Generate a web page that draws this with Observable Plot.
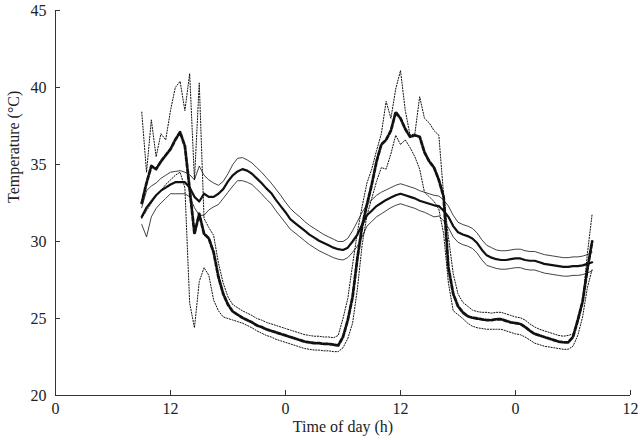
<!DOCTYPE html>
<html><head><meta charset="utf-8">
<script src="https://cdn.jsdelivr.net/npm/d3@7"></script>
<script src="https://cdn.jsdelivr.net/npm/@observablehq/plot@0.6"></script>
<style>body{margin:0;background:#fff}</style>
</head><body><div id="chart"></div>
<script>
// time since start of axis (h); tick labels show time of day
const hours = [
 9,9.5,10,10.5,11,11.5,12,12.5,13,13.5,
 14,14.5,15,15.5,16,16.5,17,17.5,18,18.5,
 19,19.5,20,20.5,21,21.5,22,22.5,23,23.5,
 24,24.5,25,25.5,26,26.5,27,27.5,28,28.5,
 29,29.5,30,30.5,31,31.5,32,32.5,33,33.5,
 34,34.5,35,35.5,36,36.5,37,37.5,38,38.5,
 39,39.5,40,40.5,41,41.5,42,42.5,43,43.5,
 44,44.5,45,45.5,46,46.5,47,47.5,48,48.5,
 49,49.5,50,50.5,51,51.5,52,52.5,53,53.5,
 54,54.5,55,55.5,56];

const tbMean = [
 31.6,32.2,32.6,33.0,33.3,33.5,33.7,33.85,33.85,33.85,
 33.5,32.9,32.6,33.1,32.9,32.9,33.1,33.4,33.9,34.3,
 34.55,34.7,34.6,34.4,34.1,33.8,33.45,33.15,32.7,32.3,
 31.9,31.45,31.2,30.95,30.7,30.45,30.25,30.05,29.9,29.75,
 29.6,29.5,29.45,29.6,30.0,30.45,31.1,31.7,32.0,32.3,
 32.5,32.7,32.85,33.0,33.1,33.0,32.9,32.8,32.65,32.55,
 32.45,32.35,32.3,32.0,31.6,31.0,30.6,30.45,30.35,30.2,
 29.9,29.45,29.1,28.95,28.85,28.8,28.8,28.85,28.9,28.9,
 28.8,28.75,28.75,28.65,28.55,28.5,28.45,28.4,28.35,28.35,
 28.4,28.4,28.45,28.55,28.65];

const tbHigh = [
 32.2,33.3,33.6,33.8,34.1,34.3,34.5,34.55,34.6,34.5,
 34.35,34.0,34.9,34.3,34.0,33.8,33.65,33.9,34.4,35.0,
 35.4,35.45,35.3,35.1,34.8,34.5,34.15,33.8,33.4,33.0,
 32.55,32.15,31.85,31.6,31.3,31.05,30.85,30.65,30.45,30.3,
 30.15,30.0,30.0,30.2,30.7,31.3,31.9,32.4,32.7,33.0,
 33.2,33.35,33.5,33.65,33.75,33.65,33.55,33.45,33.3,33.2,
 33.1,33.0,32.95,32.7,32.3,31.7,31.25,31.1,31.0,30.85,
 30.55,30.1,29.75,29.6,29.45,29.4,29.4,29.45,29.5,29.5,
 29.4,29.35,29.35,29.25,29.15,29.1,29.05,29.0,28.95,28.95,
 29.0,29.0,29.05,29.15,29.3];

const tbLow = [
 31.1,30.3,31.6,32.15,32.5,32.8,33.1,33.1,33.1,33.1,
 32.9,32.2,31.7,31.7,32.05,32.25,32.4,32.8,33.2,33.6,
 33.95,33.95,33.85,33.7,33.4,33.1,32.75,32.45,32.0,31.6,
 31.2,30.8,30.55,30.3,30.05,29.8,29.6,29.4,29.25,29.1,
 28.95,28.85,28.8,28.95,29.3,29.7,30.3,31.0,31.3,31.6,
 31.8,32.0,32.2,32.35,32.45,32.35,32.25,32.15,32.0,31.9,
 31.75,31.6,31.65,31.35,30.9,30.3,29.95,29.8,29.7,29.55,
 29.25,28.8,28.45,28.35,28.25,28.2,28.2,28.25,28.3,28.3,
 28.2,28.15,28.15,28.05,27.95,27.9,27.85,27.8,27.75,27.75,
 27.8,27.8,27.85,27.95,28.1];

const taMean = [
 32.5,33.8,34.9,34.7,35.2,35.6,36.0,36.6,37.1,36.2,
 33.4,30.5,31.8,30.5,30.2,29.3,27.7,26.6,25.9,25.45,
 25.25,25.05,24.9,24.75,24.55,24.45,24.3,24.2,24.1,24.0,
 23.9,23.8,23.7,23.6,23.5,23.45,23.4,23.4,23.35,23.35,
 23.3,23.25,23.8,24.9,26.4,28.9,31.0,32.4,33.7,35.2,
 36.3,36.6,37.2,38.4,38.0,37.3,36.8,36.9,36.8,35.8,
 35.2,34.8,34.0,32.9,28.3,26.6,25.8,25.4,25.15,25.05,
 25.0,24.95,24.9,24.9,24.95,24.95,24.85,24.75,24.7,24.65,
 24.45,24.2,24.0,23.9,23.8,23.7,23.6,23.5,23.45,23.45,
 23.8,24.9,26.1,28.2,30.0];

const taHigh = [
 38.4,34.5,37.9,35.5,37.0,36.6,38.5,40.0,40.4,38.5,
 40.9,34.0,40.3,31.5,30.9,30.4,28.6,27.3,26.4,25.9,
 25.7,25.5,25.35,25.2,25.0,24.9,24.75,24.65,24.55,24.45,
 24.35,24.25,24.15,24.05,23.95,23.9,23.85,23.85,23.8,23.8,
 23.75,23.9,25.0,26.3,28.5,30.6,32.3,33.8,34.7,35.9,
 37.0,39.1,38.0,39.9,41.1,38.5,36.9,37.0,39.4,38.0,
 37.7,37.2,36.9,33.0,30.3,27.9,26.6,26.05,25.8,25.55,
 25.45,25.4,25.4,25.35,25.4,25.4,25.3,25.2,25.1,25.05,
 24.9,24.65,24.45,24.3,24.2,24.1,24.0,23.9,23.85,23.9,
 24.0,24.7,26.0,29.2,31.8];

const taLow = [
 31.5,32.0,32.5,33.0,33.3,33.7,34.0,34.3,34.5,33.5,
 26.0,24.4,27.4,28.3,27.8,26.2,25.5,25.1,25.0,24.9,
 24.8,24.7,24.55,24.4,24.2,24.05,23.9,23.8,23.65,23.55,
 23.45,23.35,23.25,23.15,23.05,23.0,22.95,22.95,22.9,22.9,
 22.85,22.85,23.1,23.7,24.7,26.9,29.8,31.7,32.8,33.9,
 34.8,34.7,35.7,36.9,36.3,36.6,36.1,35.5,34.7,33.2,
 32.9,32.6,32.1,30.5,27.3,25.5,25.25,25.0,24.7,24.5,
 24.4,24.35,24.3,24.3,24.3,24.3,24.2,24.1,24.0,23.95,
 23.8,23.6,23.4,23.3,23.2,23.15,23.1,23.05,23.0,23.0,
 23.2,23.9,25.1,27.0,28.2];

const xTicks = [0, 12, 24, 36, 48, 60];
const yTicks = [20, 25, 30, 35, 40, 45];
const xLabel = "Time of day (h)";
const yLabel = "Temperature (°C)";

const rows = vals => hours.map((h, i) => ({h, v: vals[i]}));
const ink = "#111";

const chart = Plot.plot({
  width: 640, height: 440,
  marginLeft: 55, marginRight: 10, marginTop: 10, marginBottom: 45,
  style: {fontFamily: "'Liberation Serif', 'Times New Roman', serif", fontSize: "16px", color: "#222", background: "#fff"},
  x: {domain: [0, 60]},
  y: {domain: [20, 45]},
  marks: [
    Plot.ruleX([0], {stroke: "#333", strokeWidth: 1}),
    Plot.ruleY([20], {stroke: "#333", strokeWidth: 1}),
    Plot.tickX(xTicks, {x: d => d, insetTop: 380, stroke: "#333"}),
    Plot.tickY(yTicks, {y: d => d, insetRight: 570, stroke: "#333"}),
    Plot.axisX(xTicks, {tickSize: 0, tickPadding: 7, tickFormat: d => String(d % 24), label: null, fontSize: 16}),
    Plot.axisY(yTicks, {tickSize: 0, tickPadding: 9, label: null, fontSize: 16}),
    Plot.line(rows(tbHigh), {x: "h", y: "v", stroke: ink, strokeWidth: 0.8}),
    Plot.line(rows(tbLow), {x: "h", y: "v", stroke: ink, strokeWidth: 0.8}),
    Plot.line(rows(taHigh), {x: "h", y: "v", stroke: ink, strokeWidth: 1, strokeDasharray: "1.2,1.6"}),
    Plot.line(rows(taLow), {x: "h", y: "v", stroke: ink, strokeWidth: 1, strokeDasharray: "1.2,1.6"}),
    Plot.line(rows(tbMean), {x: "h", y: "v", stroke: ink, strokeWidth: 2.2}),
    Plot.line(rows(taMean), {x: "h", y: "v", stroke: ink, strokeWidth: 2.8, strokeDasharray: "4,2"}),
    Plot.text([yLabel], {text: d => d, frameAnchor: "left", dx: -42, rotate: -90, fontSize: 16, fill: "#222"}),
    Plot.text([xLabel], {text: d => d, frameAnchor: "bottom", dy: 36, fontSize: 16, fill: "#222"})
  ]
});
document.getElementById("chart").appendChild(chart);
</script>
</body></html>
